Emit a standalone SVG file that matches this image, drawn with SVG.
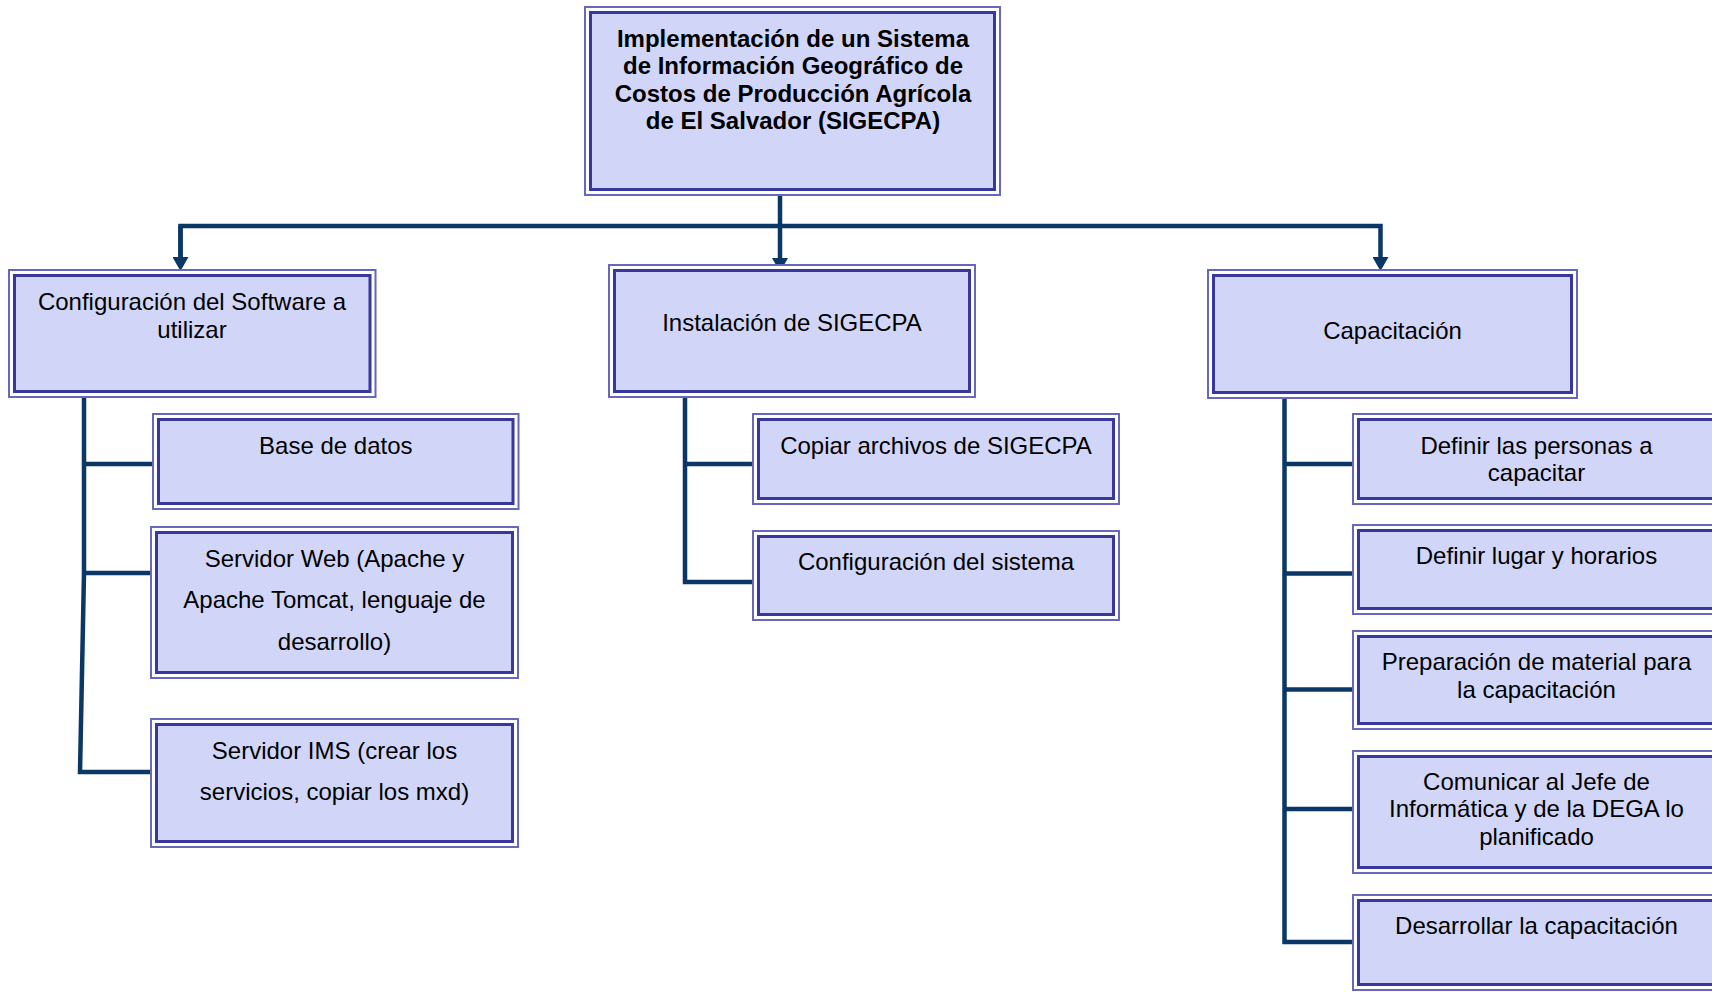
<svg xmlns="http://www.w3.org/2000/svg" width="1712" height="992" viewBox="0 0 1712 992">
  <defs>
    <style>
      .outer { fill: #ffffff; stroke: #6767bd; stroke-width: 2; }
      .inner { fill: #d1d6f9; stroke: #37379d; stroke-width: 3; }
      .t { font-family: "Liberation Sans", Arial, sans-serif; font-size: 24px; fill: #000000; text-anchor: middle; }
      .tb { font-weight: bold; }
      .link { fill: none; stroke: #0a3766; stroke-width: 4.5; stroke-linejoin: miter; stroke-linecap: butt; }
    </style>
    <marker id="arrow" viewBox="0 0 14 16" markerUnits="userSpaceOnUse" markerWidth="14" markerHeight="16" refX="0" refY="8" orient="auto">
      <path d="M0,0 L14,8 L0,16 z" fill="#0a3766"/>
    </marker>
  </defs>

  <rect width="1712" height="992" fill="#ffffff"/>

  <!-- connectors -->
  <g id="connectors">
    <path class="link" d="M780,195 V226"/>
    <path class="link" d="M180.5,257 V226 H1380.5 V257" marker-end="url(#arrow)"/>
    <path class="link" d="M180.5,226 V257" marker-end="url(#arrow)"/>
    <path class="link" d="M780,226 V258" marker-end="url(#arrow)"/>
    <!-- left branch -->
    <path class="link" d="M84,397 V573 L80,772 H151"/>
    <path class="link" d="M84,464 H153"/>
    <path class="link" d="M84,573 H151"/>
    <!-- middle branch -->
    <path class="link" d="M685,397 V582 H753"/>
    <path class="link" d="M685,464 H753"/>
    <!-- right branch -->
    <path class="link" d="M1284.5,397 V942 H1353"/>
    <path class="link" d="M1284.5,464 H1353"/>
    <path class="link" d="M1284.5,573.5 H1353"/>
    <path class="link" d="M1284.5,689.5 H1353"/>
    <path class="link" d="M1284.5,809 H1353"/>
  </g>

  <!-- root -->
  <g id="root">
    <rect class="outer" x="585" y="7" width="415" height="188"/>
    <rect class="inner" x="590.5" y="12.5" width="404" height="177"/>
    <text class="t tb" x="793" y="46.5">Implementación de un Sistema</text>
    <text class="t tb" x="793" y="74">de Información Geográfico de</text>
    <text class="t tb" x="793" y="101.5">Costos de Producción Agrícola</text>
    <text class="t tb" x="793" y="129">de El Salvador (SIGECPA)</text>
  </g>

  <!-- level 1 -->
  <g id="config-software">
    <rect class="outer" x="9" y="270" width="366.5" height="127"/>
    <rect class="inner" x="14.5" y="275.5" width="355.5" height="116"/>
    <text class="t" x="192" y="310">Configuración del Software a</text>
    <text class="t" x="192" y="337.5">utilizar</text>
  </g>
  <g id="instalacion">
    <rect class="outer" x="609" y="265" width="366" height="132"/>
    <rect class="inner" x="614.5" y="270.5" width="355" height="121"/>
    <text class="t" x="792" y="330.5">Instalación de SIGECPA</text>
  </g>
  <g id="capacitacion">
    <rect class="outer" x="1208" y="270" width="369" height="128"/>
    <rect class="inner" x="1213.5" y="275.5" width="358" height="117"/>
    <text class="t" x="1392.5" y="338.5">Capacitación</text>
  </g>

  <!-- software configuration tasks -->
  <g id="base-datos">
    <rect class="outer" x="153" y="414" width="365.5" height="95"/>
    <rect class="inner" x="158.5" y="419.5" width="354.5" height="84"/>
    <text class="t" x="335.8" y="453.5">Base de datos</text>
  </g>
  <g id="servidor-web">
    <rect class="outer" x="151" y="527" width="367" height="151"/>
    <rect class="inner" x="156.5" y="532.5" width="356" height="140"/>
    <text class="t" x="334.5" y="566.5">Servidor Web (Apache y</text>
    <text class="t" x="334.5" y="608">Apache Tomcat, lenguaje de</text>
    <text class="t" x="334.5" y="649.5">desarrollo)</text>
  </g>
  <g id="servidor-ims">
    <rect class="outer" x="151" y="719" width="367" height="128"/>
    <rect class="inner" x="156.5" y="724.5" width="356" height="117"/>
    <text class="t" x="334.5" y="758.5">Servidor IMS (crear los</text>
    <text class="t" x="334.5" y="800">servicios, copiar los mxd)</text>
  </g>

  <!-- installation tasks -->
  <g id="copiar-archivos">
    <rect class="outer" x="753" y="414" width="366" height="90"/>
    <rect class="inner" x="758.5" y="419.5" width="355" height="79"/>
    <text class="t" x="936" y="453.5">Copiar archivos de SIGECPA</text>
  </g>
  <g id="config-sistema">
    <rect class="outer" x="753" y="531" width="366" height="89"/>
    <rect class="inner" x="758.5" y="536.5" width="355" height="78"/>
    <text class="t" x="936" y="569.5">Configuración del sistema</text>
  </g>

  <!-- training tasks -->
  <g id="definir-personas">
    <rect class="outer" x="1353" y="414" width="367" height="90"/>
    <rect class="inner" x="1358.5" y="419.5" width="356" height="79"/>
    <text class="t" x="1536.5" y="453.5">Definir las personas a</text>
    <text class="t" x="1536.5" y="481">capacitar</text>
  </g>
  <g id="definir-lugar">
    <rect class="outer" x="1353" y="525" width="367" height="89"/>
    <rect class="inner" x="1358.5" y="530.5" width="356" height="78"/>
    <text class="t" x="1536.5" y="563.5">Definir lugar y horarios</text>
  </g>
  <g id="preparacion-material">
    <rect class="outer" x="1353" y="631" width="367" height="98"/>
    <rect class="inner" x="1358.5" y="636.5" width="356" height="87"/>
    <text class="t" x="1536.5" y="670">Preparación de material para</text>
    <text class="t" x="1536.5" y="698">la capacitación</text>
  </g>
  <g id="comunicar">
    <rect class="outer" x="1353" y="751" width="367" height="122"/>
    <rect class="inner" x="1358.5" y="756.5" width="356" height="111"/>
    <text class="t" x="1536.5" y="789.5">Comunicar al Jefe de</text>
    <text class="t" x="1536.5" y="817">Informática y de la DEGA lo</text>
    <text class="t" x="1536.5" y="844.5">planificado</text>
  </g>
  <g id="desarrollar">
    <rect class="outer" x="1353" y="895" width="367" height="95"/>
    <rect class="inner" x="1358.5" y="900.5" width="356" height="84"/>
    <text class="t" x="1536.5" y="933.5">Desarrollar la capacitación</text>
  </g>
</svg>
